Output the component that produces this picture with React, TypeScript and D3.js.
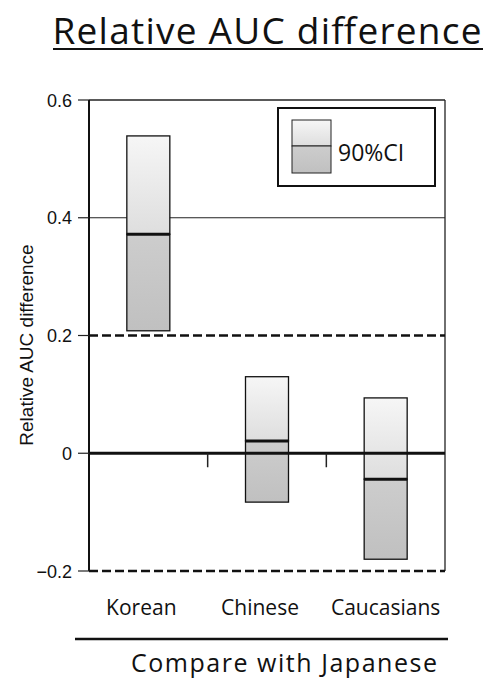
import React from "react";
import * as d3 from "d3";

// values
const groups = ["Korean", "Chinese", "Caucasians"];
const upper = [0.539, 0.13, 0.094];
const point = [0.372, 0.021, -0.044];
const lower = [0.208, -0.083, -0.18];
const yTicks = [0.6, 0.4, 0.2, 0, -0.2];

const W = 491;
const H = 679;
const margin = { top: 100, right: 46, bottom: 108, left: 89 };

export default function App() {
  const innerW = W - margin.left - margin.right;
  const y = d3.scaleLinear().domain([-0.2, 0.6]).range([571, 100]);
  const x = d3
    .scaleBand()
    .domain(groups)
    .range([margin.left, margin.left + innerW]);
  const bw = 43;
  const font = "'Open Sans', 'DejaVu Sans', sans-serif";
  const axFont = "'Liberation Sans', Arial, sans-serif";
  const x0 = margin.left;
  const x1 = margin.left + innerW;
  const labelShift = [-7, -7, 0];

  return (
    <svg
      width={W}
      height={H}
      style={{ position: "absolute", left: 0, top: 0, background: "#fff" }}
    >
      <defs>
        <linearGradient id="lightG" x1="0" y1="0" x2="0" y2="1">
          <stop offset="0" stopColor="#f6f6f6" />
          <stop offset="1" stopColor="#dedede" />
        </linearGradient>
        <linearGradient id="darkG" x1="0" y1="0" x2="0" y2="1">
          <stop offset="0" stopColor="#cdcdcd" />
          <stop offset="1" stopColor="#c0c0c0" />
        </linearGradient>
      </defs>

      {/* title */}
      <text
        x={267}
        y={44}
        textAnchor="middle"
        fontFamily={font}
        fontSize={37}
        textLength={429}
        lengthAdjust="spacing"
        fill="#111"
      >
        Relative AUC difference
      </text>
      <line x1={53} x2={483} y1={49} y2={49} stroke="#111" strokeWidth={2.2} />

      {/* frame / grid */}
      <line x1={x0} x2={x1} y1={y(0.6)} y2={y(0.6)} stroke="#222" strokeWidth={1.3} />
      <line x1={x0} x2={x1} y1={y(0.4)} y2={y(0.4)} stroke="#222" strokeWidth={1.2} />
      <line x1={x1} x2={x1} y1={y(0.6)} y2={y(-0.2)} stroke="#222" strokeWidth={1.3} />

      {/* CI boxes */}
      {groups.map((g, i) => {
        const cx = (x(g) as number) + x.bandwidth() / 2;
        const bx = cx - bw / 2;
        return (
          <g key={g}>
            <rect
              x={bx}
              y={y(upper[i])}
              width={bw}
              height={y(point[i]) - y(upper[i])}
              fill="url(#lightG)"
              stroke="#111"
              strokeWidth={1.3}
            />
            <rect
              x={bx}
              y={y(point[i])}
              width={bw}
              height={y(lower[i]) - y(point[i])}
              fill="url(#darkG)"
              stroke="#111"
              strokeWidth={1.3}
            />
            <line
              x1={bx}
              x2={bx + bw}
              y1={y(point[i])}
              y2={y(point[i])}
              stroke="#111"
              strokeWidth={3}
            />
          </g>
        );
      })}

      {/* dashed limits and zero line */}
      <line x1={x0} x2={x1} y1={y(0.2)} y2={y(0.2)} stroke="#111" strokeWidth={2.6} strokeDasharray="9,4" />
      <line x1={x0} x2={x1} y1={y(-0.2)} y2={y(-0.2)} stroke="#111" strokeWidth={2.6} strokeDasharray="9,4" />
      <line x1={x0} x2={x1} y1={y(0)} y2={y(0)} stroke="#111" strokeWidth={3} />

      {groups.slice(1).map((g) => (
        <line
          key={g}
          x1={x(g) as number}
          x2={x(g) as number}
          y1={y(0)}
          y2={y(0) + 14}
          stroke="#222"
          strokeWidth={1.5}
        />
      ))}

      {/* y axis */}
      <line x1={x0} x2={x0} y1={y(0.6)} y2={y(-0.2)} stroke="#111" strokeWidth={2} />
      {yTicks.map((t) => (
        <g key={t}>
          <line x1={x0 - 11} x2={x0} y1={y(t)} y2={y(t)} stroke="#222" strokeWidth={1.2} />
          <text
            x={72}
            y={y(t) + 6.5}
            textAnchor="end"
            fontFamily={axFont}
            fontSize={18}
            fill="#111"
          >
            {t === 0 ? "0" : d3.format(".1f")(t).replace("-", "−")}
          </text>
        </g>
      ))}
      <text
        transform={`translate(33,345) rotate(-90)`}
        textAnchor="middle"
        fontFamily={axFont}
        fontSize={19}
        fill="#111"
      >
        Relative AUC difference
      </text>

      {/* legend */}
      <rect x={278} y={108} width={157} height={78} fill="#fff" stroke="#111" strokeWidth={2} />
      <rect x={292} y={120} width={39} height={26} fill="url(#lightG)" stroke="#222" strokeWidth={1} />
      <rect x={292} y={146} width={39} height={27} fill="url(#darkG)" stroke="#222" strokeWidth={1} />
      <text x={338} y={161} fontFamily={font} fontSize={23} fill="#111">
        90%CI
      </text>

      {/* x labels */}
      {groups.map((g, i) => (
        <text
          key={g}
          x={(x(g) as number) + x.bandwidth() / 2 + labelShift[i]}
          y={615}
          textAnchor="middle"
          fontFamily={font}
          fontSize={21}
          fill="#111"
        >
          {g}
        </text>
      ))}
      <line x1={75} x2={448} y1={639} y2={639} stroke="#111" strokeWidth={2.6} />
      <text
        x={284}
        y={672}
        textAnchor="middle"
        fontFamily={font}
        fontSize={25}
        textLength={306}
        lengthAdjust="spacing"
        fill="#111"
      >
        Compare with Japanese
      </text>
    </svg>
  );
}
